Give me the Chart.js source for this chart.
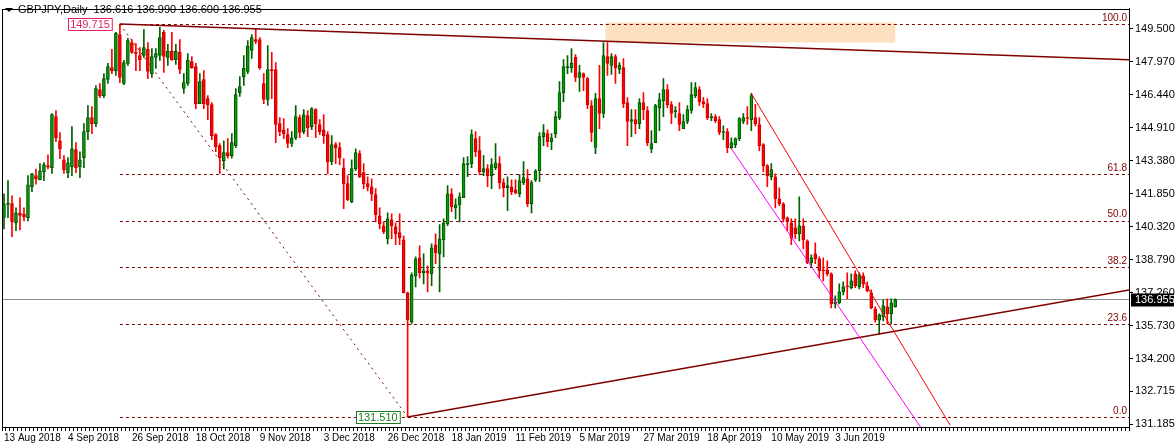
<!DOCTYPE html>
<html>
<head>
<meta charset="utf-8">
<script src="https://cdn.jsdelivr.net/npm/chart.js@4.4.1/dist/chart.umd.min.js"></script>
<style>
  html, body { margin: 0; padding: 0; background: #fff; }
  #wrap { width: 1175px; height: 448px; }
</style>
</head>
<body>
<div id="wrap"><canvas id="chart" width="1175" height="448"></canvas></div>
<script>
// GBPJPY daily candles
const opens = [140.76,141.36,141.4,140.51,140.95,140.9,140.74,142.18,142.69,142.5,
  142.88,143.16,143.06,145.43,144.31,143.43,142.83,143.1,143.9,143.1,
  143.53,144.73,145.38,145.1,146.68,146.4,147.15,147.7,147.56,149.23,
  146.96,147.89,148.86,148.4,148.26,148.26,148.54,147.42,148.17,148.26,
  149.33,148.17,148.45,148.07,148.4,146.73,146.96,147.98,147.75,146.03,
  147.14,146.26,145.98,144.59,144.08,143.39,143.76,143.62,144.08,146.54,
  147.28,147.52,148.49,149.0,149.0,146.96,146.22,147.61,147.61,145.1,
  144.82,144.59,144.18,144.45,145.38,144.73,145.48,144.96,145.75,145.06,
  144.82,144.59,143.34,144.13,143.99,143.06,142.32,141.48,143.02,143.71,
  142.83,142.32,142.18,141.81,140.83,140.37,139.77,140.65,140.32,140.05,
  139.72,137.26,135.92,138.05,138.88,138.19,138.28,138.14,139.49,139.07,
  139.72,140.46,141.85,141.2,141.34,141.67,143.2,143.25,144.41,143.85,
  142.88,143.02,142.69,143.06,143.25,142.37,142.13,142.18,142.04,141.85,
  142.37,142.55,141.39,142.5,142.92,144.5,144.64,144.27,144.64,145.38,
  146.54,147.7,147.7,148.17,147.24,147.42,147.19,145.94,144.0,146.26,
  145.57,148.21,147.8,148.21,147.61,147.7,146.08,145.2,145.29,145.1,
  146.08,145.71,143.94,144.22,145.84,146.17,146.68,145.98,145.66,145.57,
  144.87,145.2,145.71,146.4,146.68,146.12,146.03,145.38,145.43,145.29,
  144.69,144.73,143.99,144.13,144.41,145.2,145.38,145.29,145.38,145.06,
  144.13,143.16,142.64,142.64,141.62,141.39,140.74,140.51,140.28,140.0,
  140.37,139.67,138.65,139.07,138.84,138.33,138.33,138.14,136.75,136.8,
  137.31,137.59,137.5,138.14,137.54,138.05,137.59,137.26,136.52,136.0,
  136.15,136.62,136.29,136.616];
const closes = [141.38,141.4,140.55,140.97,140.85,140.78,142.27,142.78,142.55,142.92,
  143.2,143.08,145.52,144.45,143.94,142.97,143.29,143.94,143.06,143.43,
  144.73,145.38,145.1,146.73,146.4,147.19,147.75,147.56,149.28,147.24,
  147.93,148.95,148.4,148.35,148.07,148.63,147.52,148.21,148.35,149.09,
  148.21,148.45,148.07,148.45,147.61,147.0,148.03,147.7,146.03,147.05,
  146.03,145.98,144.55,144.04,143.53,143.76,143.62,144.22,146.45,146.82,
  147.66,148.68,149.09,148.91,147.7,146.22,147.61,147.56,145.06,144.73,
  144.64,144.18,144.45,145.43,144.69,145.52,144.92,145.8,145.1,144.73,
  144.55,143.34,144.13,143.99,143.53,142.32,141.58,143.02,143.76,142.64,
  142.32,142.18,141.85,140.88,140.46,140.09,140.69,140.37,140.0,139.81,
  137.26,136.01,138.1,138.84,138.19,138.28,138.19,139.35,139.12,139.77,
  140.51,141.85,141.25,141.34,141.71,143.25,143.25,144.59,143.8,142.88,
  143.02,142.69,143.2,143.29,142.37,142.13,142.23,141.95,141.9,142.46,
  142.6,141.39,142.37,142.92,144.5,144.69,144.27,144.45,145.43,146.54,
  147.75,147.75,147.89,147.24,147.47,147.24,145.98,144.69,146.26,145.57,
  148.26,147.89,148.21,147.7,147.8,146.03,145.2,145.29,145.1,146.08,
  145.75,144.22,144.18,145.94,146.22,146.68,145.98,145.57,145.71,145.06,
  145.2,145.75,146.45,146.77,146.12,146.03,145.38,145.43,145.24,144.69,
  144.73,143.99,144.22,144.41,145.34,145.38,145.34,146.4,145.1,144.08,
  143.16,142.69,142.97,141.62,141.39,140.69,140.55,139.81,140.0,140.37,
  139.72,138.65,138.88,138.84,138.28,138.28,138.14,136.75,136.85,137.31,
  137.54,137.54,137.82,137.59,138.1,137.68,137.35,136.57,136.01,136.25,
  136.66,136.29,136.8,136.955];
const highs = [141.85,142.46,141.76,141.2,141.67,141.2,142.69,142.8,143.0,143.25,
  143.3,143.66,145.57,145.71,144.69,143.62,143.53,144.96,144.22,143.8,
  145.1,145.94,145.89,146.87,146.96,147.42,147.89,148.54,149.33,149.715,
  148.03,149.05,149.0,148.81,148.63,149.46,148.86,148.58,148.58,149.56,
  149.42,148.77,149.33,148.77,149.0,147.42,148.35,148.21,147.89,147.42,
  147.56,146.4,146.08,144.64,144.18,144.31,144.41,144.64,146.73,147.28,
  148.26,148.95,149.23,149.51,149.09,147.42,148.72,148.4,147.93,145.38,
  145.34,144.87,144.73,145.94,145.5,145.75,145.71,145.84,145.8,145.29,
  145.52,144.73,144.55,144.22,144.22,143.48,142.69,143.43,143.94,143.85,
  143.25,142.64,142.55,142.09,141.2,140.55,140.97,140.92,140.51,140.92,
  139.9,137.3,138.19,138.93,139.44,139.07,138.51,139.53,140.0,140.42,
  140.69,142.23,142.09,141.62,141.9,143.53,143.57,144.82,144.73,144.5,
  143.62,143.2,143.48,144.18,143.57,142.55,142.64,142.5,142.5,142.74,
  143.34,142.97,142.46,142.97,144.69,145.06,144.82,144.64,145.66,147.05,
  148.07,148.26,148.58,148.3,147.8,147.45,147.25,146.17,146.5,147.8,
  148.86,148.86,148.35,148.3,147.93,148.12,146.31,145.75,145.75,146.26,
  146.54,145.89,144.78,146.0,146.5,147.19,146.91,146.12,145.89,146.08,
  145.52,145.94,147.0,147.0,146.82,146.31,146.26,145.57,145.52,145.43,
  145.0,144.87,144.45,144.45,145.38,145.57,145.89,146.5,146.0,145.38,
  144.18,143.2,143.25,142.78,142.13,141.44,140.79,140.69,140.69,141.71,
  140.69,139.72,139.02,139.58,138.93,138.88,138.75,138.19,137.12,137.68,
  137.77,138.19,138.14,138.28,138.19,138.19,137.77,137.4,136.62,136.29,
  136.94,136.98,136.98,136.99];
const lows = [140.23,140.74,139.86,140.14,140.18,140.6,140.6,141.95,142.3,142.5,
  142.46,143.0,142.8,144.27,143.48,142.8,142.6,142.69,142.83,142.6,
  143.06,144.36,144.64,144.96,146.31,146.31,146.96,147.42,147.33,147.0,
  146.91,147.8,148.35,147.56,147.56,148.17,147.19,147.24,147.66,148.03,
  147.47,147.8,148.03,147.84,147.42,146.5,146.87,147.66,145.8,146.03,
  145.8,145.29,144.36,143.8,142.8,143.0,143.5,143.5,143.99,146.36,
  146.87,147.42,148.12,148.81,147.61,146.03,145.94,146.26,144.22,144.55,
  144.41,143.99,144.04,144.36,144.45,144.64,144.5,144.82,144.45,144.59,
  144.18,142.78,143.2,143.25,143.2,141.16,141.53,141.44,142.92,142.6,
  142.09,141.99,141.53,140.55,140.23,140.0,139.53,139.77,139.49,139.49,
  137.26,131.51,135.82,137.54,137.96,137.68,137.31,137.59,138.61,137.31,
  138.93,140.37,141.02,140.69,140.55,141.67,142.64,143.06,143.57,142.74,
  142.69,142.18,142.09,142.97,142.09,141.71,141.07,141.81,141.85,141.71,
  142.27,141.25,140.97,142.41,142.41,144.08,144.04,143.9,144.45,145.29,
  146.12,147.42,147.47,147.05,146.59,146.63,145.8,144.27,143.71,144.87,
  145.38,147.33,147.38,146.96,147.42,145.84,144.08,144.5,144.64,144.87,
  145.29,144.08,143.76,144.59,144.78,145.43,145.84,145.1,145.38,144.78,
  144.87,145.1,145.57,146.31,145.94,145.84,145.29,145.24,145.15,144.59,
  144.36,143.76,143.94,143.99,144.31,145.1,145.06,144.78,145.0,143.85,
  142.88,142.18,142.5,141.2,141.3,140.55,140.14,139.49,139.77,139.67,
  139.3,138.61,138.47,138.61,137.96,137.82,138.05,136.57,136.57,136.75,
  137.17,136.98,137.45,137.5,137.45,137.5,137.31,136.52,135.91,135.35,
  135.96,135.82,135.82,136.6];

const dateLabels = ['13 Aug 2018','4 Sep 2018','26 Sep 2018','18 Oct 2018','9 Nov 2018',
  '3 Dec 2018','26 Dec 2018','18 Jan 2019','11 Feb 2019','5 Mar 2019','27 Mar 2019',
  '18 Apr 2019','10 May 2019','3 Jun 2019'];
const barsPerLabel = 16;
const totalSlots = 282;

const priceTicks = [131.185,132.715,134.2,135.73,137.26,138.79,140.32,141.85,143.38,144.91,146.44,147.97,149.5];
const lastPrice = 136.955;

// fibonacci retracement: levels and their names
const fibLevels = [149.715,142.757,140.613,138.464,135.806,131.51];
const fibNames = ['100.0','61.8','50.0','38.2','23.6','0.0'];
const fibStartBar = 29;

// trend lines [bar1, price1, bar2, price2]
const topTrend = [29, 149.715, 281.5, 148.06];
const fibDiagonal = [29, 149.715, 101, 131.51];
const supportTrend = [101, 131.51, 281.5, 137.39];
const channelRed = [187, 146.5, 236.75, 131.13];
const channelMagenta = [182, 143.94, 229.5, 131.0];
const zoneBox = [150.5, 149.79, 223, 148.86];

const FONT = '"Liberation Sans", Arial, sans-serif';
const labels = Array.from({ length: totalSlots }, (_, i) => i);
const up = closes.map((c, i) => c >= opens[i]);

const overlay = {
    id: 'overlay',
    beforeDatasetsDraw(chart) {
        const { ctx, chartArea: a, scales: { x, y } } = chart;
        ctx.save();
        // supply zone
        ctx.fillStyle = '#fde0bf';
        const zx1 = x.getPixelForValue(zoneBox[0]), zx2 = x.getPixelForValue(zoneBox[2]);
        const zy1 = y.getPixelForValue(zoneBox[1]), zy2 = y.getPixelForValue(zoneBox[3]);
        ctx.fillRect(zx1, zy1, zx2 - zx1, zy2 - zy1);
        // last price line
        ctx.strokeStyle = '#8c8c8c';
        ctx.lineWidth = 1;
        const ly = Math.round(y.getPixelForValue(lastPrice)) + 0.5;
        ctx.beginPath(); ctx.moveTo(a.left, ly); ctx.lineTo(a.right, ly); ctx.stroke();
        // fib levels
        ctx.strokeStyle = '#800000';
        ctx.setLineDash([3, 3]);
        const fx = x.getPixelForValue(fibStartBar);
        fibLevels.forEach(v => {
            const py = Math.round(y.getPixelForValue(v)) + 0.5;
            ctx.beginPath(); ctx.moveTo(fx, py); ctx.lineTo(a.right, py); ctx.stroke();
        });
        ctx.setLineDash([2, 4]);
        ctx.beginPath();
        ctx.moveTo(x.getPixelForValue(fibDiagonal[0]), y.getPixelForValue(fibDiagonal[1]));
        ctx.lineTo(x.getPixelForValue(fibDiagonal[2]), y.getPixelForValue(fibDiagonal[3]));
        ctx.stroke();
        ctx.setLineDash([]);
        ctx.fillStyle = '#800000';
        ctx.font = '10px ' + FONT;
        ctx.textAlign = 'right';
        ctx.textBaseline = 'bottom';
        fibLevels.forEach((v, i) => {
            ctx.fillText(fibNames[i], a.right - 2, y.getPixelForValue(v) - 1);
        });
        ctx.restore();
    },
    afterDatasetsDraw(chart) {
        const { ctx, chartArea: a, scales: { x, y } } = chart;
        ctx.save();
        ctx.beginPath(); ctx.rect(a.left, a.top, a.right - a.left, a.bottom - a.top); ctx.clip();
        const seg = (s, col, w) => {
            ctx.strokeStyle = col; ctx.lineWidth = w;
            ctx.beginPath();
            ctx.moveTo(x.getPixelForValue(s[0]), y.getPixelForValue(s[1]));
            ctx.lineTo(x.getPixelForValue(s[2]), y.getPixelForValue(s[3]));
            ctx.stroke();
        };
        seg(topTrend, '#800000', 1.5);
        seg(supportTrend, '#800000', 1.5);
        seg(channelRed, '#ff0000', 1);
        seg(channelMagenta, '#ff00ff', 1);
        ctx.restore();

        ctx.save();
        // plot frame
        ctx.strokeStyle = '#000';
        ctx.lineWidth = 1;
        ctx.strokeRect(Math.round(a.left) + 0.5, Math.round(a.top) + 0.5,
            Math.round(a.right - a.left), Math.round(a.bottom - a.top));
        ctx.font = '11px ' + FONT;
        ctx.textBaseline = 'middle';
        ctx.textAlign = 'left';
        // high / low price tags
        const tag = (txt, bar, v, col, dx) => {
            const w = ctx.measureText(txt).width + 4;
            const px = x.getPixelForValue(bar) + dx - w;
            const py = y.getPixelForValue(v);
            ctx.fillStyle = '#fff';
            ctx.fillRect(px, py - 6, w, 12);
            ctx.strokeStyle = col; ctx.lineWidth = 1;
            ctx.strokeRect(Math.round(px) + 0.5, Math.round(py - 6) + 0.5, w, 12);
            ctx.fillStyle = col;
            ctx.fillText(txt, px + 2, py + 0.5);
        };
        tag('149.715', 29, 149.715, '#e0245e', -8);
        tag('131.510', 101, 131.51, '#1f7a1f', -8);
        // title
        ctx.fillStyle = '#000';
        ctx.beginPath(); ctx.moveTo(5, 8); ctx.lineTo(13, 8); ctx.lineTo(9, 12); ctx.closePath(); ctx.fill();
        ctx.fillText('GBPJPY,Daily  136.616 136.990 136.600 136.955', 18, 10);
        ctx.restore();
    },
    afterDraw(chart) {
        const { ctx, chartArea: a, scales: { y } } = chart;
        ctx.save();
        const py = y.getPixelForValue(lastPrice);
        ctx.fillStyle = '#000';
        ctx.fillRect(a.right + 2, py - 6, 43, 13);
        ctx.fillStyle = '#fff';
        ctx.font = '11px ' + FONT;
        ctx.textBaseline = 'middle';
        ctx.fillText(lastPrice.toFixed(3), a.right + 6, py + 0.5);
        ctx.restore();
    }
};

new Chart(document.getElementById('chart'), {
    type: 'bar',
    data: {
        labels: labels,
        datasets: [
            {
                label: 'body',
                data: opens.map((o, i) => [o, closes[i]]),
                backgroundColor: up.map(u => u ? '#00a000' : '#ff0000'),
                borderColor: up.map(u => u ? '#005000' : '#cc0000'),
                borderWidth: 1,
                borderSkipped: false,
                barThickness: 3,
                minBarLength: 1,
                grouped: false,
                order: 1
            },
            {
                label: 'wick',
                data: lows.map((l, i) => [l, highs[i]]),
                backgroundColor: up.map(u => u ? '#006000' : '#ff0000'),
                barThickness: 1,
                grouped: false,
                order: 2
            }
        ]
    },
    options: {
        responsive: false,
        animation: false,
        layout: { padding: { top: 0, left: 2, right: 0, bottom: 0 } },
        plugins: { legend: { display: false }, tooltip: { enabled: false } },
        scales: {
            x: {
                offset: true,
                grid: { display: true, drawOnChartArea: false, tickLength: 4, color: '#000' },
                border: { color: '#000' },
                afterFit: s => { s.height = 21; },
                ticks: {
                    autoSkip: false,
                    maxRotation: 0,
                    align: 'start',
                    padding: 1,
                    color: '#000',
                    font: { family: FONT, size: 10 },
                    callback: (v, i) => (i % barsPerLabel === 0 && dateLabels[i / barsPerLabel]) ? dateLabels[i / barsPerLabel] : ''
                }
            },
            y: {
                position: 'right',
                min: 131.048,
                max: 150.431,
                afterBuildTicks: s => { s.ticks = priceTicks.map(v => ({ value: v })); },
                afterFit: s => { s.width = 46; },
                grid: { display: true, drawOnChartArea: false, tickLength: 4, color: '#000' },
                border: { color: '#000' },
                ticks: {
                    padding: 2,
                    color: '#000',
                    font: { family: FONT, size: 11 },
                    callback: v => v.toFixed(3)
                }
            }
        }
    },
    plugins: [overlay]
});
</script>
</body>
</html>
